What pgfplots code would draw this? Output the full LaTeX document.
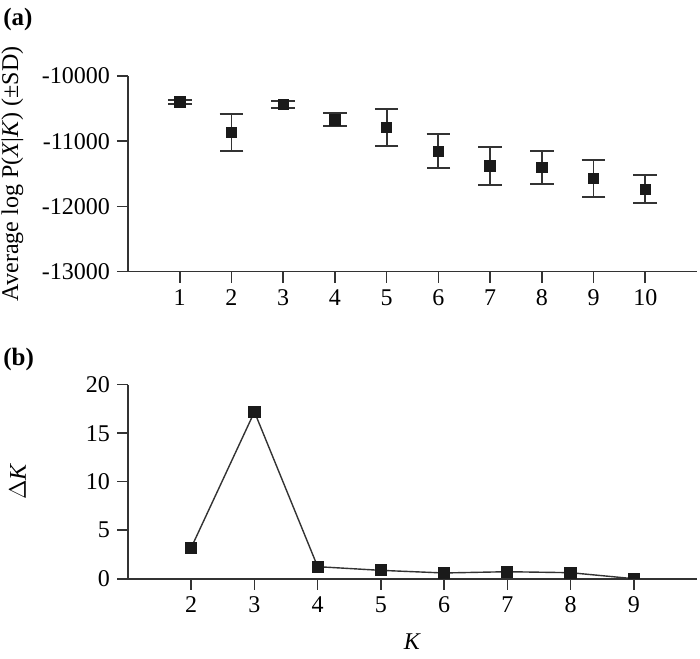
\documentclass[border=0pt]{standalone}
\usepackage{fontspec}
\setmainfont{Liberation Serif}
\usepackage{pgfplots}
\pgfplotsset{compat=1.18}
\usepackage{pgfplotstable}

\pgfplotstableread{
k  m       sd
1  -10400  30
2  -10865  280
3  -10435  50
4  -10672  100
5  -10792  286
6  -11155  260
7  -11377  289
8  -11402  258
9  -11571  279
10 -11735  217
}\logp

\pgfplotstableread{
k  dk
2  3.2
3  17.2
4  1.24
5  0.86
6  0.59
7  0.72
8  0.62
9  0.0
}\deltak

\definecolor{axisgray}{HTML}{333333}
\definecolor{markblack}{HTML}{1A1A1A}

\pgfplotsset{
  myaxis/.style={
    scale only axis,
    width=284.5bp,
    axis lines*=left,
    axis line style={axisgray, line width=0.8bp},
    tick align=outside,
    major tick length=5.5bp,
    tick style={axisgray, line width=0.8bp},
    scaled ticks=false,
    /pgf/number format/.cd, 1000 sep={}, assume math mode=true,
  },
}

\begin{document}
\begin{tikzpicture}[font=\fontsize{12bp}{14bp}\selectfont]
\path[use as bounding box] (0,0) rectangle (350bp,329.5bp);

\node[anchor=north west, inner sep=0pt, font=\fontsize{12.5bp}{14bp}\selectfont\bfseries] at (1.5bp,325.5bp) {(a)};
\node[anchor=north west, inner sep=0pt, font=\fontsize{12.5bp}{14bp}\selectfont\bfseries] at (1.5bp,155.5bp) {(b)};

\begin{axis}[myaxis,
  at={(64bp,193.65bp)}, anchor=south west,
  height=97.85bp,
  xmin=0, xmax=11,
  ymin=-13000, ymax=-10000,
  xtick={1,...,10},
  ytick={-13000,-12000,-11000,-10000},
  ylabel={Average log P(\textit{X}|\textit{K}) (±SD)},
  ylabel style={at={(axis description cs:-0.203,0.5)}, anchor=center},
  clip=false,
]
\addplot[draw=none, mark=square*, mark size=2.6bp,
  mark options={fill=markblack, draw=markblack},
  error bars/.cd, y dir=both, y explicit,
  error bar style={axisgray, line width=0.9bp},
  error mark options={axisgray, line width=0.9bp, mark size=5.9bp, rotate=90}]
  table[x=k, y=m, y error=sd] {\logp};
\addplot[draw=none, mark=square*, mark size=2.6bp,
  mark options={fill=markblack, draw=markblack}]
  table[x=k, y=m] {\logp};
\end{axis}

\begin{axis}[myaxis,
  at={(64bp,40.15bp)}, anchor=south west,
  height=97bp,
  xmin=1, xmax=10,
  ymin=0, ymax=20,
  xtick={2,...,9},
  ytick={0,5,10,15,20},
  ylabel={$\Delta$\textit{K}},
  ylabel style={at={(axis description cs:-0.194,0.5)}, anchor=center},
  xlabel={\textit{K}},
  xlabel style={at={(axis description cs:0.5,-0.326)}, anchor=center},
  clip marker paths=true,
]
\addplot[color=axisgray, line width=0.7bp, mark=square*, mark size=2.7bp,
  mark options={fill=markblack, draw=markblack}]
  table[x=k, y=dk] {\deltak};
\end{axis}
\end{tikzpicture}
\end{document}
